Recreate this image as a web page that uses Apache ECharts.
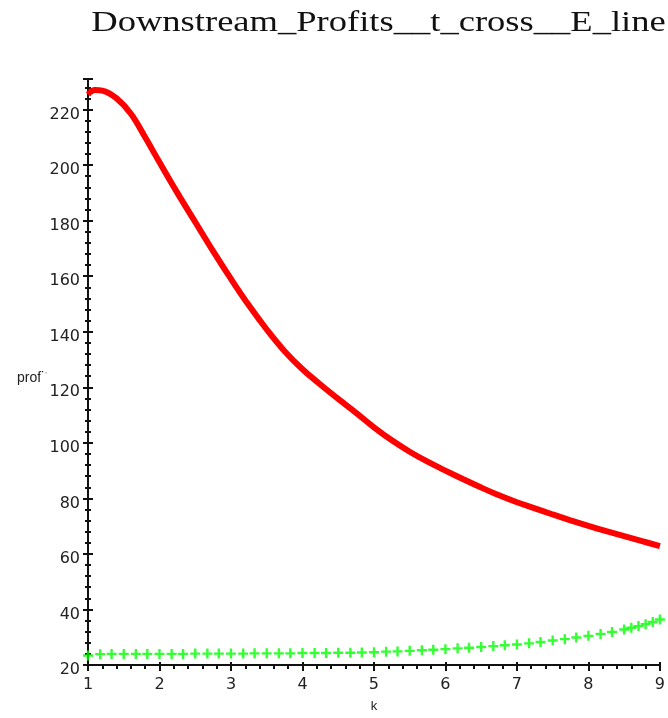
<!DOCTYPE html>
<html>
<head>
<meta charset="utf-8">
<style>html,body{margin:0;padding:0;background:#fff;}#chart{width:668px;height:718px;}</style>
<script src="https://cdn.jsdelivr.net/npm/echarts@6/dist/echarts.min.js"></script>
</head>
<body>
<div id="chart"></div>
<script>
const titleText = 'Downstream_Profits__t_cross__E_line';
const xName = 'k';
const yName = 'profits';

const redX = [1.0, 1.1, 1.2, 1.4, 1.6, 1.8, 2.0, 2.25, 2.5, 2.75, 3.0, 3.25, 3.5, 3.75, 4.0, 4.25, 4.5, 4.75, 5.0, 5.25, 5.5, 5.75, 6.0, 6.25, 6.5, 6.75, 7.0, 7.25, 7.5, 7.75, 8.0, 8.25, 8.5, 8.75, 9.0];
const redY = [225.5, 227.0, 226.8, 224.0, 218.5, 210.0, 201.0, 190.0, 179.5, 169.0, 159.0, 149.5, 140.8, 133.0, 126.5, 121.0, 115.8, 110.8, 105.6, 100.9, 96.8, 93.2, 90.0, 86.9, 83.9, 81.1, 78.6, 76.4, 74.2, 72.1, 70.1, 68.2, 66.4, 64.6, 62.8];

const greenX = [1, 1.17, 1.33, 1.5, 1.67, 1.83, 2, 2.17, 2.33, 2.5, 2.67, 2.83, 3, 3.17, 3.33, 3.5, 3.67, 3.83, 4, 4.17, 4.33, 4.5, 4.67, 4.83, 5, 5.17, 5.33, 5.5, 5.67, 5.83, 6, 6.17, 6.33, 6.5, 6.67, 6.83, 7, 7.17, 7.33, 7.5, 7.67, 7.83, 8, 8.17, 8.33, 8.5, 8.6, 8.7, 8.8, 8.9, 9.0];
const greenY = [23.4, 23.9, 24.0, 24.0, 24.0, 24.0, 24.0, 24.0, 24.0, 24.1, 24.1, 24.1, 24.1, 24.1, 24.2, 24.2, 24.2, 24.2, 24.3, 24.3, 24.3, 24.4, 24.4, 24.5, 24.6, 24.8, 24.9, 25.1, 25.3, 25.5, 25.7, 26.0, 26.2, 26.5, 26.8, 27.1, 27.4, 27.8, 28.3, 28.8, 29.3, 29.9, 30.5, 31.2, 31.9, 32.8, 33.4, 34.0, 34.7, 35.5, 36.4];

const xMin = 1, xMax = 9, xStep = 1;
const yMin = 20, yMax = 231, yStep = 20;

const chart = echarts.init(document.getElementById('chart'), null, {renderer: 'canvas'});
const labelFont = {fontFamily: 'DejaVu Sans', fontSize: 16, color: '#222'};
const plus = 'path://M3.8,0H6.2V3.8H10V6.2H6.2V10H3.8V6.2H0V3.8H3.8Z';

const baseX = {type: 'value', min: xMin, max: xMax, interval: xStep, splitLine: {show: false}};
const baseY = {type: 'value', min: yMin, max: yMax, interval: yStep, splitLine: {show: false}};

chart.setOption({
  animation: false,
  backgroundColor: '#fff',
  graphic: [
    {
      type: 'text', x: 378.5, y: 9, scaleX: 1.26, scaleY: 1,
      style: {text: titleText, font: '29px "Liberation Serif"', fill: '#111', textAlign: 'center', textVerticalAlign: 'top'}
    },
    {
      type: 'text', x: 17, y: 371, z: -10,
      style: {text: yName, font: '14px "Liberation Sans"', fill: '#222', textAlign: 'left', textVerticalAlign: 'top'}
    }
  ],
  grid: {left: 88, right: 7, top: 79, bottom: 48, containLabel: false},
  xAxis: [
    Object.assign({}, baseX, {
      position: 'bottom',
      name: xName, nameLocation: 'middle', nameGap: 35,
      nameTextStyle: {fontFamily: 'Liberation Sans', fontSize: 13, color: '#222'},
      axisLine: {show: true, onZero: false, lineStyle: {color: '#111', width: 2}},
      axisTick: {show: true, inside: false, length: 6, lineStyle: {color: '#111', width: 2}},
      minorTick: {show: true, splitNumber: 5, length: 4, lineStyle: {color: '#111', width: 2}},
      axisLabel: Object.assign({margin: 12}, labelFont)
    }),
    Object.assign({}, baseX, {
      position: 'bottom',
      axisLine: {show: false, onZero: false},
      axisTick: {show: true, inside: true, length: 3, lineStyle: {color: '#111', width: 2}},
      minorTick: {show: true, splitNumber: 5, length: 1, lineStyle: {color: '#111', width: 2}},
      axisLabel: {show: false}
    })
  ],
  yAxis: [
    Object.assign({}, baseY, {
      position: 'left',
      axisLine: {show: true, onZero: false, lineStyle: {color: '#111', width: 2}},
      axisTick: {show: true, inside: false, length: 5, lineStyle: {color: '#111', width: 2}},
      minorTick: {show: true, splitNumber: 5, length: 3, lineStyle: {color: '#111', width: 2}},
      axisLabel: Object.assign({
        margin: 7, backgroundColor: '#fff', padding: [5, 1, 1, 9], showMaxLabel: false,
        formatter: v => '{a|' + v + '}',
        rich: {a: {fontFamily: 'DejaVu Sans', fontSize: 16, color: '#222', padding: [6, 0, 0, 0]}}
      }, labelFont)
    }),
    Object.assign({}, baseY, {
      position: 'left',
      axisLine: {show: false, onZero: false},
      axisTick: {show: true, inside: true, length: 5, lineStyle: {color: '#111', width: 2}},
      minorTick: {show: true, splitNumber: 5, length: 3, lineStyle: {color: '#111', width: 2}},
      axisLabel: {show: false}
    })
  ],
  series: [
    {
      type: 'line', name: 'profits', xAxisIndex: 0, yAxisIndex: 0,
      data: redX.map((x, i) => [x, redY[i]]),
      smooth: 0.4, showSymbol: false, symbol: 'none',
      lineStyle: {color: '#ff0000', width: 6}, z: 3
    },
    {
      type: 'scatter', name: 'E_line', xAxisIndex: 0, yAxisIndex: 0,
      data: greenX.map((x, i) => [x, greenY[i]]),
      symbol: plus, symbolSize: 10,
      itemStyle: {color: '#00ff00'}, z: 4
    }
  ]
});
</script>
</body>
</html>
